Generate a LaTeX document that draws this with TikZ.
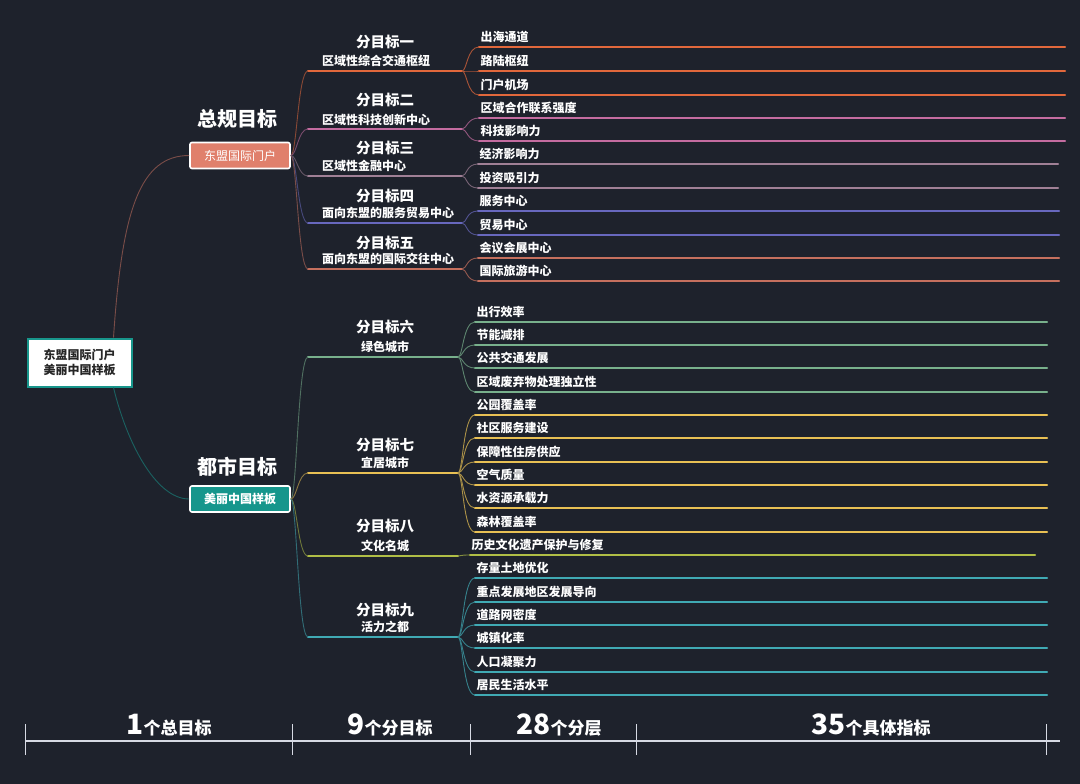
\documentclass[tikz,border=0pt]{standalone}
\usepackage{fontspec}
\setmainfont{Noto Sans CJK SC}
\usepackage{xcolor}
\usetikzlibrary{calc}
\definecolor{bgdark}{RGB}{30,34,44}
\definecolor{rootteal}{RGB}{24,150,140}
\definecolor{boxsalmon}{RGB}{224,128,108}
\definecolor{boxteal}{RGB}{22,150,140}
\definecolor{gone}{RGB}{226,104,60}
\definecolor{gtwo}{RGB}{196,108,160}
\definecolor{gthree}{RGB}{160,128,150}
\definecolor{gfour}{RGB}{104,104,190}
\definecolor{gfive}{RGB}{198,112,94}
\definecolor{gsix}{RGB}{120,176,140}
\definecolor{gseven}{RGB}{232,192,84}
\definecolor{geight}{RGB}{176,190,70}
\definecolor{gnine}{RGB}{64,170,180}
\definecolor{axisgray}{RGB}{215,218,228}

\begin{document}
\begin{tikzpicture}[x=1pt,y=-1pt,
	goalbox/.style={draw=white,line width=1.6pt,rounded corners=2pt,minimum width=100,minimum height=26,inner sep=0pt,text=white},
	subline/.style={line width=2.6pt,line cap=round},
	leafline/.style={line width=2.2pt,line cap=round},
	twig/.style={line width=0.9pt},
	leaftext/.style={anchor=west,inner sep=0pt,text=white}]
	\newcommand{\myfontleaf}[1]{%
		\fontsize{12}{14}\selectfont\bfseries{#1}%
	}\newcommand{\myfonttitle}[1]{%
		\fontsize{14.5}{16}\selectfont\bfseries{#1}%
	}\newcommand{\myfontbig}[1]{%
		\fontsize{20}{22}\selectfont\bfseries{#1}%
	}\newcommand{\myfontaxis}[1]{%
		\fontsize{17}{20}\selectfont\bfseries{#1}%
	}%Background
	\fill[bgdark] (0,0) rectangle (1080,784);
	\useasboundingbox (0,0) rectangle (1080,784);
	%Root
	\node [draw=rootteal,line width=2pt,fill=white,minimum width=104,minimum height=48,align=center,inner sep=0pt,text={black!85},font={\fontsize{12}{15.5}\selectfont\bfseries}] (root) at (79.5,362.5) {东盟国际门户\\美丽中国样板};
	\coordinate (rootup) at ($(root.north east)+(-19,0)$);
	\coordinate (rootdn) at ($(root.south east)+(-19,0)$);
	%Two main goals
	\node [goalbox,fill=boxsalmon] (gate) at (240,155.5) {\fontsize{12}{14}\selectfont 东盟国际门户};
	\node [text=white] (gatetitle) at (237.5,119) {\myfontbig{总规目标}};
	\node [goalbox,fill=boxteal] (model) at (240,499) {\fontsize{12}{14}\selectfont\bfseries 美丽中国样板};
	\node [text=white] (modeltitle) at (237.5,467) {\myfontbig{都市目标}};
	\draw [twig,color={gfive!55!bgdark}] (rootup) .. controls (122,210) and (140,155.5) .. (gate.west);
	\draw [twig,color={rootteal!55!bgdark}] (rootdn) .. controls (126,440) and (155,499) .. (model.west);
	%Sub goals of the first main goal
	\foreach \n/\yt/\ys/\yl/\col/\ttl/\sub in {
		1/42/61/71/gone/分目标一/区域性综合交通枢纽,
		2/100/120/129/gtwo/分目标二/区域性科技创新中心,
		3/148/166/176/gthree/分目标三/区域性金融中心,
		4/196/213/223/gfour/分目标四/面向东盟的服务贸易中心,
		5/243/259/269/gfive/分目标五/面向东盟的国际交往中心} {
		\coordinate (sub\n a) at (308,\yl);
		\coordinate (sub\n b) at (462,\yl);
		\draw [subline,color=\col] (sub\n a) -- (sub\n b);
		\draw [twig,color={\col!55!bgdark}] (gate.east) .. controls +(6,0) and +(-10,0) .. (sub\n a);
		\node [text=white] (subtitle\n) at (385,\yt) {\myfonttitle{\ttl}};
		\node [text=white,anchor=west,inner sep=0pt] (subname\n) at (322,\ys) {\myfontleaf{\sub}};
	}
	%Sub goals of the second main goal
	\foreach \n/\yt/\ys/\yl/\col/\ttl/\sub in {
		6/327/347/357/gsix/分目标六/绿色城市,
		7/445/463/473/gseven/分目标七/宜居城市,
		8/526/546/556/geight/分目标八/文化名城,
		9/610/627/637/gnine/分目标九/活力之都} {
		\coordinate (sub\n a) at (308,\yl);
		\coordinate (sub\n b) at (458,\yl);
		\draw [subline,color=\col] (sub\n a) -- (sub\n b);
		\draw [twig,color={\col!55!bgdark}] (model.east) .. controls +(6,0) and +(-10,0) .. (sub\n a);
		\node [text=white] (subtitle\n) at (385,\yt) {\myfonttitle{\ttl}};
		\node [text=white] (subname\n) at (385,\ys) {\myfontleaf{\sub}};
	}
	%Leaves
	\foreach \n/\col/\xs/\xe/\list in {
		1/gone/479/1065/{47/出海通道,71/路陆枢纽,95/门户机场},
		2/gtwo/479/1065/{118/区域合作联系强度,141/科技影响力},
		3/gthree/478/1058/{164/经济影响力,188/投资吸引力},
		4/gfour/478/1059/{211/服务中心,235/贸易中心},
		5/gfive/478/1059/{258/会议会展中心,281/国际旅游中心},
		6/gsix/475/1047/{322/出行效率,345/节能减排,368/公共交通发展,392/区域废弃物处理独立性},
		7/gseven/475/1047/{415/公园覆盖率,438/社区服务建设,462/保障性住房供应,485/空气质量,508/水资源承载力,532/森林覆盖率},
		8/geight/470/1035/{555/历史文化遗产保护与修复},
		9/gnine/475/1047/{578/存量土地优化,602/重点发展地区发展导向,625/道路网密度,648/城镇化率,672/人口凝聚力,695/居民生活水平}} {
		\foreach \y/\txt [count=\i] in \list {
			\coordinate (leaf\n s\i) at (\xs,\y);
			\coordinate (leaf\n e\i) at (\xe,\y);
			\draw [leafline,color=\col] (leaf\n s\i) -- (leaf\n e\i);
			\draw [twig,color={\col!70!bgdark}] (sub\n b) .. controls +(5,0) and +(-12,0) .. (leaf\n s\i);
			\node [leaftext] (leaf\n t\i) at ($(leaf\n s\i)+(1.5,-10.5)$) {\myfontleaf{\txt}};
		}
	}
	%Axis at the bottom
	\coordinate (axL) at (25,741);
	\coordinate (axR) at (1060,741);
	\draw [axisgray,line width=1.8pt] (axL) -- (axR);
	\foreach \x [count=\i] in {25,292,470,636,1046} {
		\coordinate (tickup\i) at (\x,724);
		\coordinate (tickdn\i) at (\x,755);
		\draw [axisgray,line width=0.8pt] (tickup\i) -- (tickdn\i);
	}
	\node [text=white,anchor=base] (count1) at (169,734) {{\fontsize{28}{30}\selectfont\bfseries 1}\myfontaxis{个总目标}};
	\node [text=white,anchor=base] (count2) at (390,734) {{\fontsize{28}{30}\selectfont\bfseries 9}\myfontaxis{个分目标}};
	\node [text=white,anchor=base] (count3) at (559,734) {{\fontsize{28}{30}\selectfont\bfseries 28}\myfontaxis{个分层}};
	\node [text=white,anchor=base] (count4) at (871,734) {{\fontsize{28}{30}\selectfont\bfseries 35}\myfontaxis{个具体指标}};
\end{tikzpicture}
\end{document}
